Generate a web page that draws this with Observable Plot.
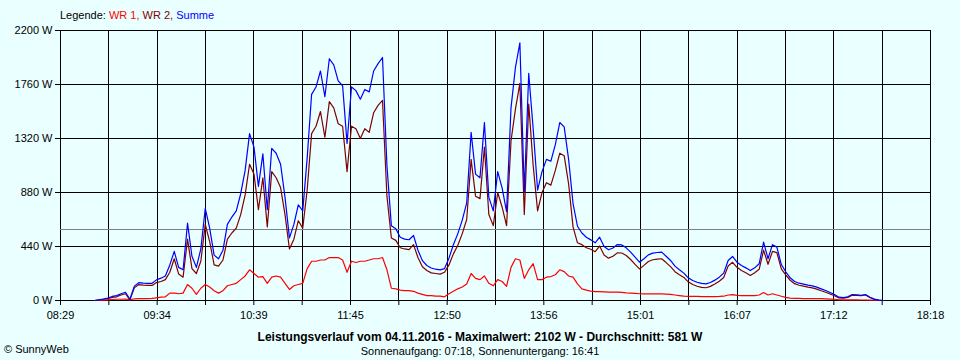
<!DOCTYPE html>
<html><head><meta charset="utf-8">
<script src="https://cdn.jsdelivr.net/npm/d3@7"></script>
<script src="https://cdn.jsdelivr.net/npm/@observablehq/plot@0.6"></script>
<style>
html,body{margin:0;padding:0;background:#eaffff;width:960px;height:360px;overflow:hidden;font-family:"Liberation Sans",Arial,sans-serif;color:#000;}
#legend{height:22px;box-sizing:border-box;padding-top:9px;padding-left:60px;font-size:11px;line-height:13px;white-space:nowrap;}
#chart{height:300px;}
#caption{position:relative;height:38px;box-sizing:border-box;padding-top:8px;text-align:center;font-size:11px;line-height:14px;}
#caption .t{font-weight:bold;font-size:12px;}
#copy{position:absolute;left:4px;top:20px;font-size:11px;line-height:14px;}
</style></head><body>
<div id="legend"></div>
<div id="chart"></div>
<div id="caption"></div>
<script>
// ---- data ----
const xTickLabels = ["08:29","09:34","10:39","11:45","12:50","13:56","15:01","16:07","17:12","18:18"];
const yTickValues = [0,440,880,1320,1760,2200];
const seriesNames = ["WR 1","WR 2","Summe"];
const seriesColors = ["#ff0000","#800000","#0000ff"];
const startTime = "08:52";
const stepMinutes = 3;
const wr1 = [0,0,2,5,8,10,10,12,5,14,15,15,16,17,22,27,30,60,60,55,
60,130,100,50,100,130,110,80,60,80,120,130,140,170,200,250,220,190,195,140,
190,200,190,140,90,120,130,140,260,320,320,330,330,350,350,350,330,230,320,310,
320,320,330,340,340,350,250,100,95,85,80,80,75,60,50,40,40,35,35,30,
55,75,95,110,135,220,180,170,200,140,120,170,155,115,270,340,330,180,250,300,
170,170,190,195,210,250,235,200,190,135,95,85,76,72,72,70,68,68,68,66,
62,60,58,55,54,54,54,54,54,52,50,45,40,35,33,33,33,32,32,32,
32,33,35,45,48,42,40,40,40,40,45,65,45,55,45,35,25,20,18,17,
16,16,16,16,16,14,12,10,6,5,5,6,5,4,4,3,2,0,0];
const wr2 = [0,5,10,15,25,30,45,55,5,103,130,126,124,123,146,155,170,230,340,215,
190,500,260,220,320,620,480,290,280,330,500,550,590,700,860,1110,1030,740,1000,600,
1050,1000,920,700,420,500,650,590,900,1360,1420,1540,1330,1620,1570,1440,1420,1050,1420,1400,
1320,1400,1370,1530,1590,1630,850,510,490,430,420,415,455,350,275,245,225,220,215,230,
290,380,450,545,660,1150,850,830,1250,700,610,880,760,610,1300,1560,1770,700,1600,1100,
730,880,960,940,1060,1200,1180,950,600,470,455,430,418,398,444,370,345,360,388,387,
367,334,295,257,286,318,332,337,340,309,276,235,210,188,152,130,116,107,104,115,
134,157,188,281,311,270,245,226,204,226,254,410,295,400,390,258,209,165,137,124,
117,109,103,93,79,67,53,39,21,19,25,43,41,39,45,24,9,3,0];
const averageW = 581;
const maxW = 2102;
const dateText = "04.11.2016";
const sunrise = "07:18", sunset = "16:41";

// ---- build ----
const toMin = s => +s.slice(0,2)*60 + +s.slice(3,5);
const t0 = toMin(startTime);
const summe = wr1.map((v,i) => v + wr2[i]);
const mk = (arr, name) => arr.map((v,i) => ({t: t0 + i*stepMinutes, v, s: name}));
const d1 = mk(wr1, seriesNames[0]), d2 = mk(wr2, seriesNames[1]), d3s = mk(summe, seriesNames[2]);
const xa = toMin(xTickLabels[0]), xb = toMin(xTickLabels[xTickLabels.length-1]);
const nGrid = (xTickLabels.length-1)*2;
const xGrid = d3.range(nGrid+1).map(k => xa + k*(xb-xa)/nGrid);
const fmtX = (d) => { const k = xGrid.indexOf(d); return k % 2 === 0 ? xTickLabels[k/2] : ""; };

const legend = document.getElementById("legend");
legend.innerHTML = 'Legende: ' + seriesNames.map((n,i)=>`<span style="color:${seriesColors[i]}">${n}${i<seriesNames.length-1?", ":""}</span>`).join("");

const plot = Plot.plot({
  width: 960, height: 300,
  marginTop: 8, marginBottom: 22, marginLeft: 60, marginRight: 30,
  style: {background: "transparent", fontSize: "11px", fontFamily: "Liberation Sans, Arial, sans-serif", color: "#000"},
  x: {domain: [xa, xb]},
  y: {domain: [yTickValues[0], yTickValues[yTickValues.length-1]]},
  marks: [
    Plot.ruleX(xGrid, {stroke: "#000", strokeWidth: 1, shapeRendering: "crispEdges"}),
    Plot.ruleY(yTickValues, {stroke: "#000", strokeWidth: 1, shapeRendering: "crispEdges"}),
    Plot.ruleY([averageW], {stroke: "#808080", strokeWidth: 1, shapeRendering: "crispEdges"}),
    Plot.line(d1, {x: "t", y: "v", stroke: seriesColors[0], strokeWidth: 1.2}),
    Plot.line(d2, {x: "t", y: "v", stroke: seriesColors[1], strokeWidth: 1.2}),
    Plot.line(d3s, {x: "t", y: "v", stroke: seriesColors[2], strokeWidth: 1.2}),
    Plot.axisY({ticks: yTickValues, tickFormat: d => d + " W", tickSize: 5, tickPadding: 3, label: null}),
    Plot.axisX({ticks: xGrid, tickFormat: fmtX, tickSize: 5, tickPadding: 6, label: null})
  ]
});
document.getElementById("chart").appendChild(plot);

document.getElementById("caption").innerHTML =
  `<div class="t">Leistungsverlauf vom ${dateText} - Maximalwert: ${maxW} W - Durchschnitt: ${averageW} W</div>` +
  `<div>Sonnenaufgang: ${sunrise}, Sonnenuntergang: ${sunset}</div>` +
  `<div id="copy">© SunnyWeb</div>`;
</script>
</body></html>
